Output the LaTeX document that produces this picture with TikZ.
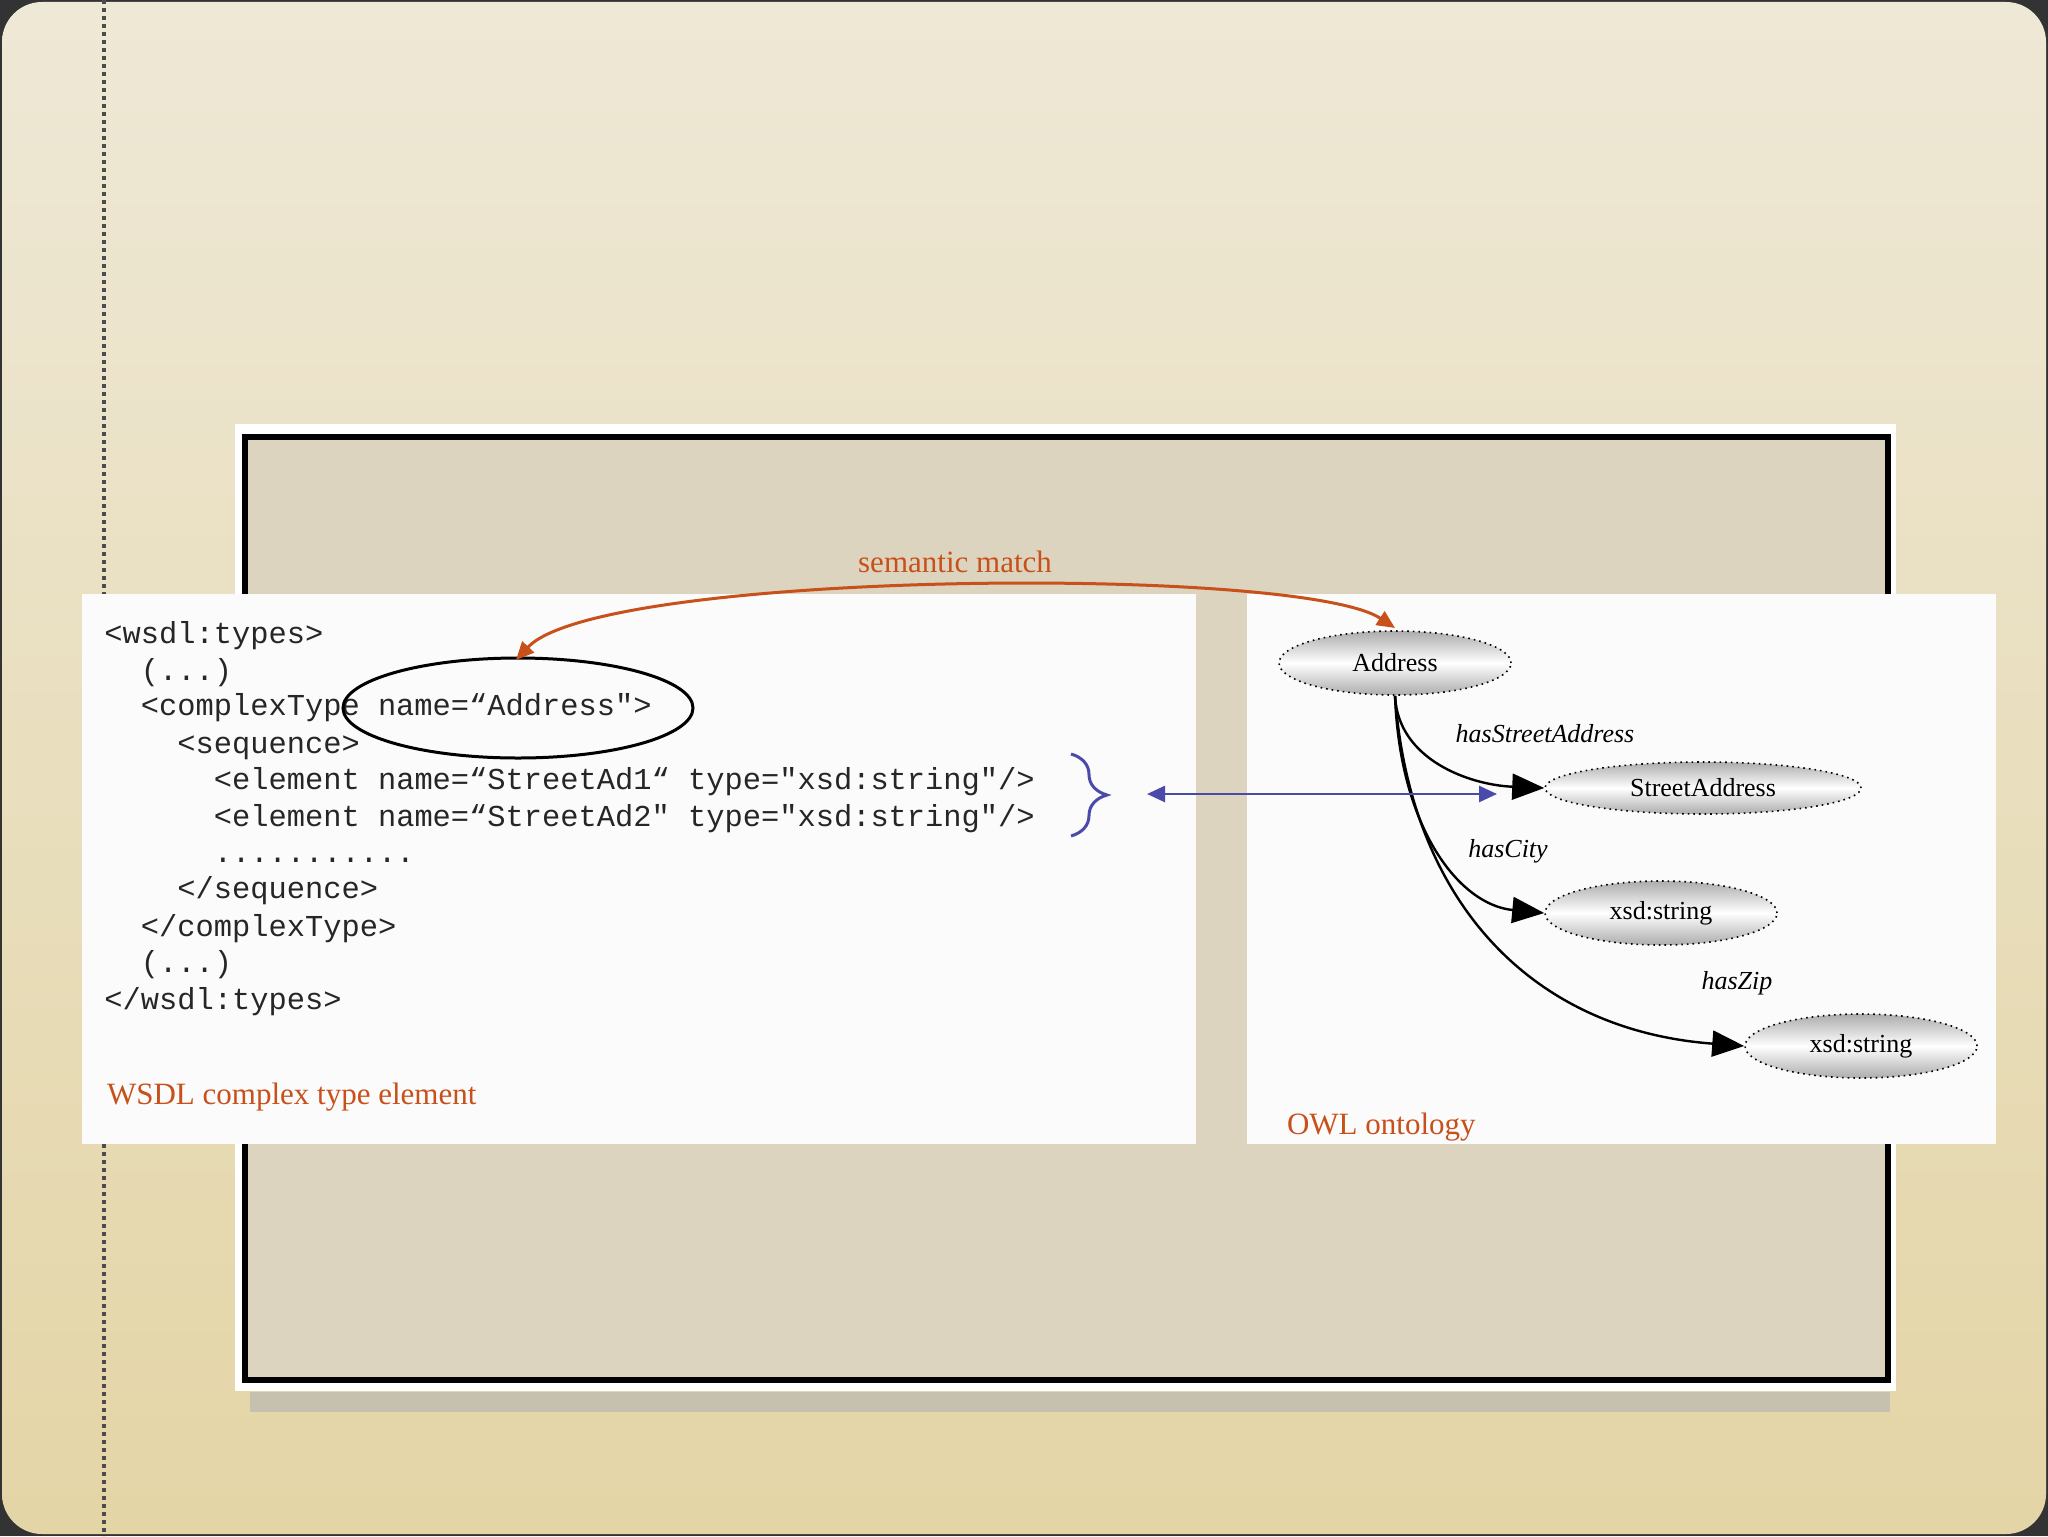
\documentclass[tikz,border=0pt]{standalone}
\usepackage{fontspec}
\setmainfont{Liberation Serif}
\setmonofont{Liberation Mono}
\usetikzlibrary{shapes.geometric,arrows.meta,decorations.pathreplacing}
\definecolor{orng}{HTML}{C8501A}
\definecolor{bluel}{HTML}{4A4AAA}
\definecolor{bgtop}{HTML}{EEE8D6}
\definecolor{bgbot}{HTML}{E4D5A6}
\definecolor{framein}{HTML}{DCD4BF}
\tikzset{
  onode/.style={ellipse,draw,dotted,thick,top color=gray!65,bottom color=gray!65,middle color=white,font=\fontsize{13}{15}\selectfont,inner sep=0pt},
  code/.style={anchor=base west,font=\ttfamily\fontsize{15.2}{17}\selectfont,inner sep=0pt,text=black!85},
  edgel/.style={font=\itshape\fontsize{13}{15}\selectfont},
  tip/.style={-{Triangle[length=16pt,width=13pt]},line width=1.2pt}
}
\begin{document}
\begin{tikzpicture}[x=0.5pt,y=-0.5pt]
\useasboundingbox (0,0) rectangle (2048,1536);
\fill[black!80] (0,0) rectangle (2048,1536);
\shade[rounded corners=20pt,top color=bgtop,bottom color=bgbot] (2,2) rectangle (2046,1534);
\draw[dotted,line width=2pt,black!70] (104,0) -- (104,1536);
% frame
\fill[black!30,opacity=0.6] (250,1392) rectangle (1890,1412);
\fill[white] (235,424) rectangle (1896,1391);
\draw[line width=3pt,fill=framein] (245,437) rectangle (1888,1380);
% panels
\fill[white!97!gray] (82,594) rectangle (1196,1144);
\fill[white!97!gray] (1247,594) rectangle (1996,1144);
% code
\node[code] (l1) at (104,643) {<wsdl:types>};
\node[code] (l2) at (104,680) {\ \ (...)};
\node[code] (l3) at (104,715) {\ \ <complexType name=“Address">};
\node[code] (l4) at (104,753) {\ \ \ \ <sequence>};
\node[code] (l5) at (104,789) {\ \ \ \ \ \ <element name=“StreetAd1“ type="xsd:string"/>};
\node[code] (l6) at (104,826) {\ \ \ \ \ \ <element name=“StreetAd2" type="xsd:string"/>};
\node[code] (l7) at (104,862) {\ \ \ \ \ \ ...........};
\node[code] (l8) at (104,898) {\ \ \ \ </sequence>};
\node[code] (l9) at (104,936) {\ \ </complexType>};
\node[code] (l10) at (104,972) {\ \ (...)};
\node[code] (l11) at (104,1009) {</wsdl:types>};
\node[ellipse,draw,line width=1.5pt,minimum width=175pt,minimum height=50pt] (ell) at (518,708) {};
\node[anchor=west,text=orng,font=\fontsize{15.5}{18}\selectfont] (wl) at (100,1097) {WSDL complex type element};
\node[anchor=west,text=orng,font=\fontsize{15.5}{18}\selectfont] (ol) at (1280,1127) {OWL ontology};
% ontology
\node[onode,minimum width=116pt,minimum height=32pt] (addr) at (1395,663) {Address};
\node[onode,minimum width=158pt,minimum height=26pt] (sa) at (1703,788) {StreetAddress};
\node[onode,minimum width=116pt,minimum height=32pt] (x1) at (1661,913) {xsd:string};
\node[onode,minimum width=116pt,minimum height=32pt] (x2) at (1861,1046) {xsd:string};
\draw[tip] (addr.south) .. controls (1398,760) and (1470,785) .. (sa.west);
\draw[tip] (addr.south) .. controls (1400,830) and (1460,905) .. (x1.west);
\draw[tip] (addr.south) .. controls (1410,900) and (1530,1030) .. (x2.west);
\node[edgel] (e1) at (1545,734) {hasStreetAddress};
\node[edgel] (e2) at (1508,851) {hasCity};
\node[edgel] (e3) at (1737,983) {hasZip};
% semantic match
\coordinate (sm1) at (516,660);
\coordinate (sm2) at (1395,628);
\draw[orng,line width=1.5pt,{Triangle[length=9pt,width=8pt]}-{Triangle[length=9pt,width=8pt]}] (sm1) .. controls (600,570) and (1300,565) .. (sm2);
\node[text=orng,font=\fontsize{15.5}{18}\selectfont] (smt) at (955,562) {semantic match};
% brace & blue
\draw[bluel,line width=1.5pt,decorate,decoration={brace,amplitude=18pt}] (1071,754) -- (1071,836);
\coordinate (b1) at (1147,794);
\coordinate (b2) at (1497,794);
\draw[bluel,line width=1.3pt,{Triangle[length=9pt,width=8pt]}-{Triangle[length=9pt,width=8pt]}] (b1) -- (b2);
\end{tikzpicture}
\end{document}
